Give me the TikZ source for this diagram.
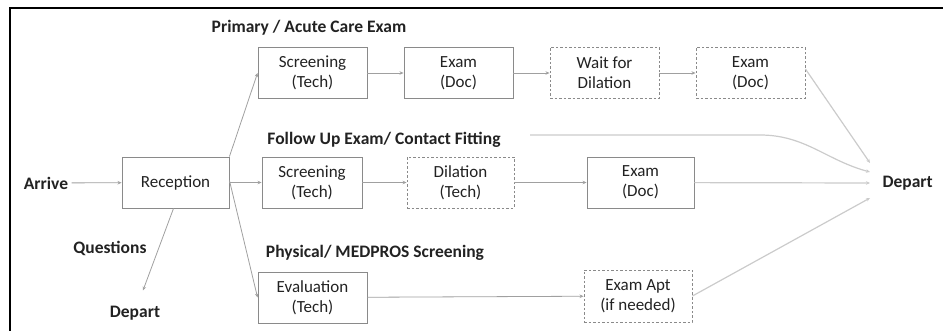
\documentclass[tikz,border=0pt]{standalone}
\usepackage{fontspec}
\setmainfont{Carlito}
\usetikzlibrary{arrows.meta}
\definecolor{boxc}{HTML}{8A8A8A}
\definecolor{linec}{HTML}{A0A0A0}
\definecolor{txt}{HTML}{222222}
\tikzset{
  every node/.style={text=txt, font=\fontsize{17}{20}\selectfont},
  box/.style={draw=boxc, line width=0.9pt, align=center, minimum height=51pt, inner sep=0pt},
  dbox/.style={box, dash pattern=on 2.5pt off 2pt},
  lbl/.style={font=\fontsize{17.5}{20}\selectfont\bfseries},
  conn/.style={draw=linec, line width=0.8pt, -{Stealth[length=4pt,width=3.5pt]}},
  faint/.style={draw=linec!55, line width=1.2pt, -{Stealth[length=4pt,width=3.5pt]}}
}
\begin{document}
\begin{tikzpicture}[x=1pt,y=-1pt]
\useasboundingbox (0,0) rectangle (943,331);
\draw[line width=2pt, black] (10,340) -- (10,8) -- (950,8);
% labels
\node[lbl] (lp) at (309,28) {Primary / Acute Care Exam};
\node[lbl] (lf) at (384,140) {Follow Up Exam/ Contact Fitting};
\node[lbl] (lm) at (375,253) {Physical/ MEDPROS Screening};
\node[lbl] (q) at (110,248) {Questions};
\node[lbl] (dl) at (135,313) {Depart};
\node[lbl] (ar) at (46,183) {Arrive};
\node[lbl, anchor=west] (dr) at (879,183) {Depart};
% top row
\node[box, minimum width=109pt] (s1) at (312.5,73) {Screening\\(Tech)};
\node[box, minimum width=109pt] (e1) at (458.5,73) {Exam\\(Doc)};
\node[dbox, minimum width=109pt] (w1) at (604.5,73) {Wait for\\Dilation};
\node[dbox, minimum width=109pt] (e2) at (750.5,73) {Exam\\(Doc)};
% middle row
\node[box, minimum width=107pt] (rc) at (175.5,182.5) {Reception};
\node[box, minimum width=100pt] (s2) at (312,182.5) {Screening\\(Tech)};
\node[dbox, minimum width=107pt] (dt) at (460.5,182.5) {Dilation\\(Tech)};
\node[box, minimum width=107pt] (e3) at (640.5,182.5) {Exam\\(Doc)};
% bottom row
\node[box, minimum width=109pt] (ev) at (312.5,297.5) {Evaluation\\(Tech)};
\node[dbox, minimum width=108pt, minimum height=52pt] (ea) at (638,296) {Exam Apt\\(if needed)};
% coordinates at Depart
\coordinate (d1) at (870,163);
\coordinate (d2) at (870,172);
\coordinate (d3) at (870,183);
\coordinate (d4) at (870,198);
\coordinate (f0) at (530,135);
\coordinate (f1) at (760,135);
% connectors
\draw[conn] (ar) -- (rc);
\draw[conn] (rc.north east) -- (s1.west);
\draw[conn] (rc) -- (s2);
\draw[conn] ([yshift=2pt]rc.east) -- (ev.west);
\draw[conn] ([xshift=-2pt]rc.south) -- ([yshift=12pt]dl.north -| 143,0);
\draw[conn] (s1) -- (e1);
\draw[conn] (e1) -- (w1);
\draw[conn] (w1) -- (e2);
\draw[faint] ([yshift=4pt]e2.east) -- (d1);
\draw[faint] (f0) -- (f1) to[out=0,in=165] (d2);
\draw[conn] (s2) -- (dt);
\draw[conn] (dt) -- (e3);
\draw[faint] (e3) -- (d3);
\draw[conn] (ev) -- (ea);
\draw[faint] (ea.east) -- (d4);
\end{tikzpicture}
\end{document}
